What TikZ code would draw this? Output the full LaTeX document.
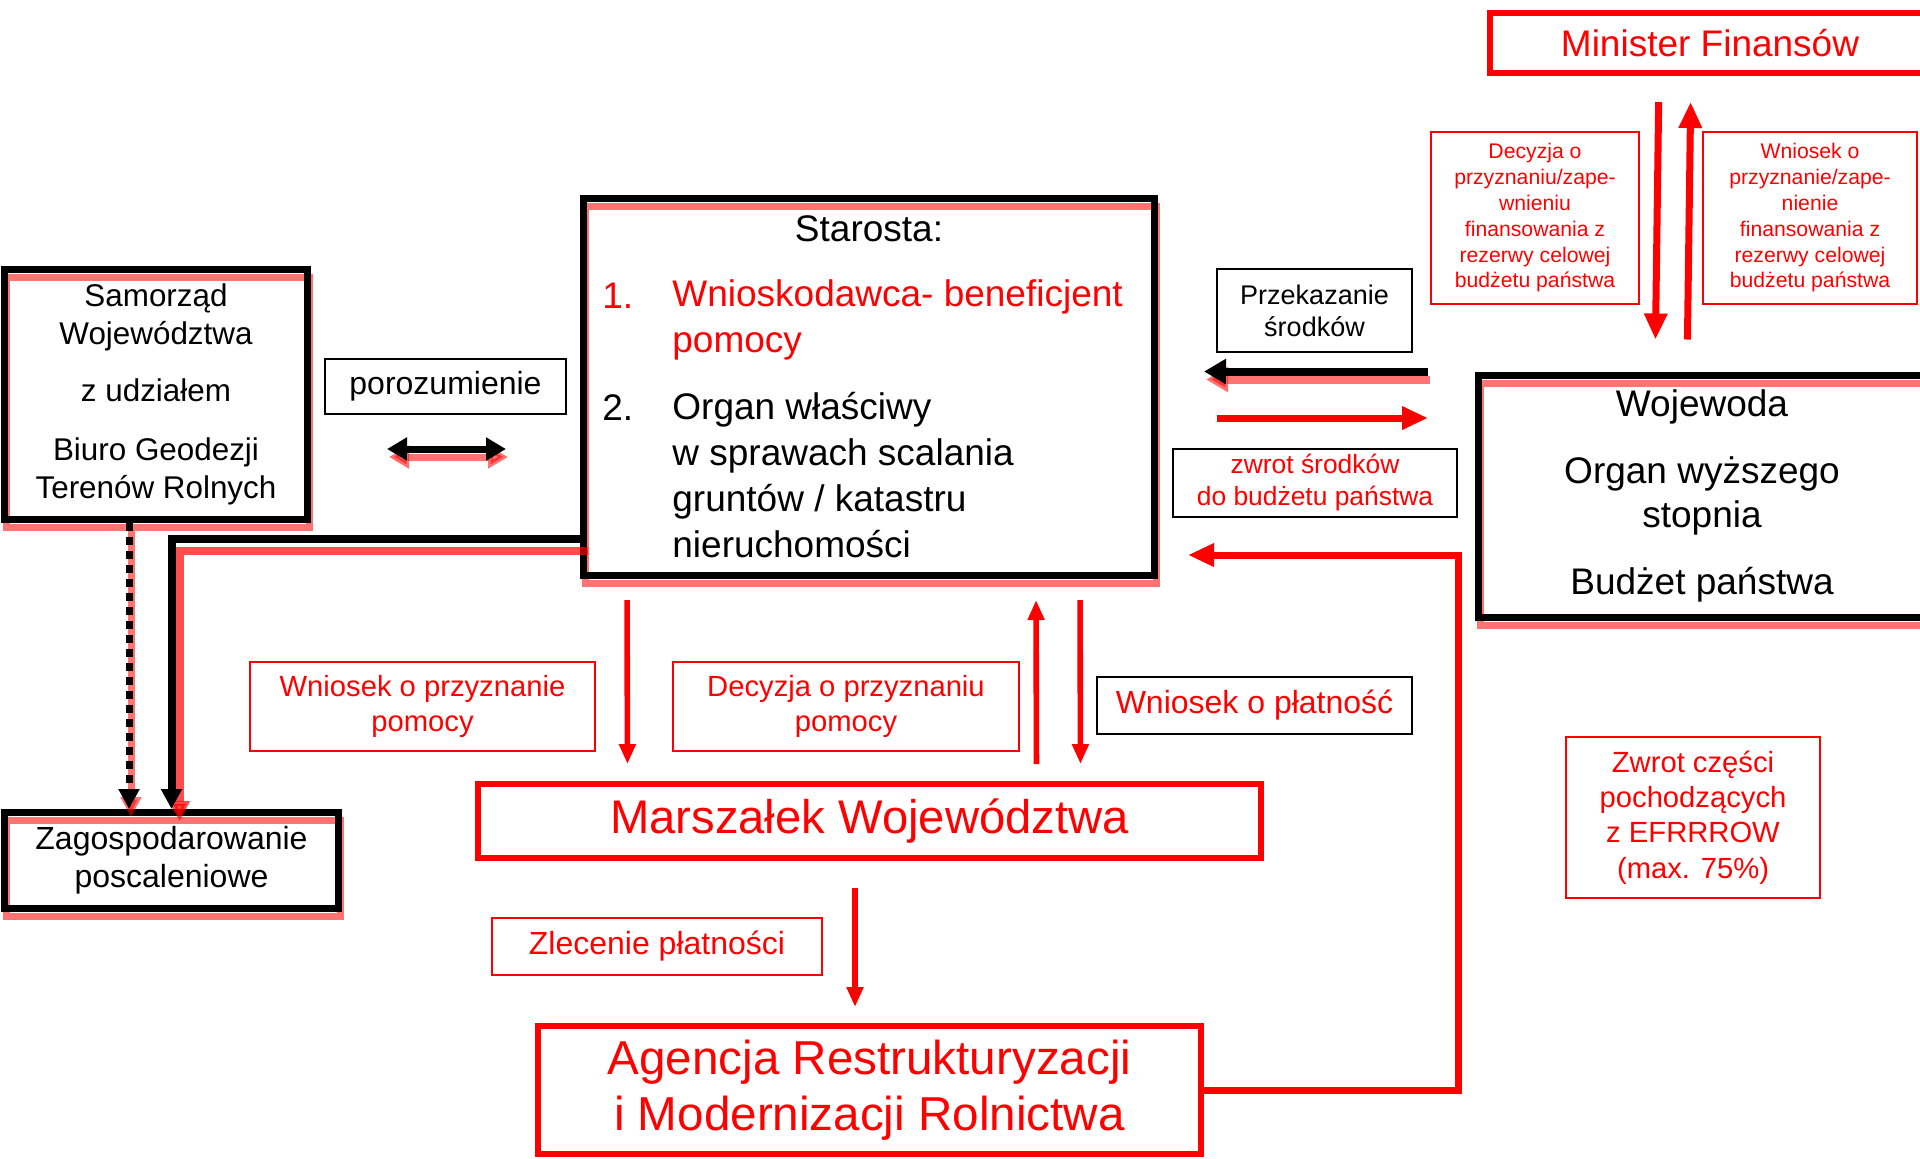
\documentclass[tikz,border=0pt]{standalone}
\usepackage{fontspec}
\setmainfont{Liberation Sans}
\usetikzlibrary{arrows.meta}

\newcommand{\fs}[2]{\fontsize{#1}{#2}\selectfont}

\begin{document}
\begin{tikzpicture}[x=0.5pt,y=-0.5pt,
    shd/.style={preaction={draw=red,opacity=.55,line width=#1,transform canvas={xshift=1pt,yshift=-4pt}}},
    shd/.default=3.5pt,
    shdl/.style={preaction={draw=red,opacity=.7,line width=4pt,transform canvas={xshift=4pt,yshift=-6pt}}},
    kbox/.style={draw,line width=3.5pt,align=center,inner sep=0pt,shd},
    rbox/.style={draw=red,line width=3pt,text=red,align=center,inner sep=0pt},
    rlab/.style={draw=red,line width=1pt,text=red,align=center,inner sep=0pt},
    klab/.style={draw,line width=1pt,align=center,inner sep=0pt},
    rarr/.style={red,line width=2.8pt,-{Triangle[length=10pt,width=8pt]}},
    rbig/.style={red,line width=3.5pt,-{Triangle[length=13pt,width=11pt]}},
    karr/.style={line width=4pt,-{Triangle[length=11pt,width=12pt]}}]

\useasboundingbox (0,0) rectangle (1920,1158);

% top right: minister and wojewoda
\node[rbox,minimum width=220pt,minimum height=30pt,font=\fs{18.5}{22}] (MF) at (1710,43) {Minister Finansów};
\node[rlab,minimum width=104pt,minimum height=86pt,font=\fs{10.6}{12.9}] (DZ) at (1535,218) {Decyzja o\\przyznaniu/zape-\\wnieniu\\finansowania z\\rezerwy celowej\\budżetu państwa};
\node[rlab,minimum width=107pt,minimum height=86pt,font=\fs{10.6}{12.9}] (WZ) at (1810,218) {Wniosek o\\przyznanie/zape-\\nienie\\finansowania z\\rezerwy celowej\\budżetu państwa};
\node[kbox,minimum width=224pt,minimum height=121pt,font=\fs{18.5}{22}] (WO) at (1702,496) {Wojewoda\\[11.5pt]Organ wyższego\\stopnia\\[11.5pt]Budżet państwa};
\node[klab,minimum width=97.5pt,minimum height=41.5pt,font=\fs{13.5}{16}] (PS) at (1314.5,310.5) {Przekazanie\\środków};
\node[klab,text=red,minimum width=142pt,minimum height=34pt,font=\fs{13.2}{16}] (ZS) at (1315,483) {zwrot środków\\do budżetu państwa};

% starosta
\node[kbox,minimum width=285.5pt,minimum height=188.5pt] (ST) at (869,387) {};
\node[font=\fs{18.5}{23},inner sep=0pt] (st0) at (869,229) {Starosta:};
\node[font=\fs{18.5}{23},inner sep=0pt,anchor=west,text=red] (n1) at (602,296) {1.};
\node[font=\fs{18.5}{23},inner sep=0pt,anchor=west,align=left,text=red] (t1) at (672,320) {Wnioskodawca- beneficjent\\pomocy};
\node[font=\fs{18.5}{23},inner sep=0pt,anchor=west] (n2) at (602,408) {2.};
\node[font=\fs{18.5}{23},inner sep=0pt,anchor=west,align=left] (t2) at (672,475) {Organ właściwy\\w sprawach scalania\\gruntów / katastru\\nieruchomości};

% left side
\node[kbox,minimum width=151.5pt,minimum height=125pt,font=\fs{15.7}{19}] (SW) at (156,394.5) {Samorząd\\Województwa\\[9.5pt]z udziałem\\[10.5pt]Biuro Geodezji\\Terenów Rolnych};
\node[klab,minimum width=120.5pt,minimum height=27.5pt,font=\fs{16}{19}] (PZ) at (445.5,386.5) {porozumienie};
\node[kbox,minimum width=167pt,minimum height=48pt,font=\fs{16}{19}] (ZP) at (171.5,860.5) {Zagospodarowanie\\poscaleniowe};

% bottom
\node[rlab,minimum width=172.5pt,minimum height=44.5pt,font=\fs{14.6}{17.5}] (WP) at (422.5,706.5) {Wniosek o przyznanie\\pomocy};
\node[rlab,minimum width=173pt,minimum height=44.5pt,font=\fs{14.6}{17.5}] (DP) at (846,706.5) {Decyzja o przyznaniu\\pomocy};
\node[klab,text=red,minimum width=157.5pt,minimum height=28.5pt,font=\fs{16}{19}] (WPL) at (1254.5,705.5) {Wniosek o płatność};
\node[rbox,minimum width=391.5pt,minimum height=37pt,font=\fs{23.6}{28}] (MA) at (869.5,821) {Marszałek Województwa};
\node[rlab,minimum width=165pt,minimum height=28.5pt,font=\fs{16}{19}] (ZL) at (657,946.5) {Zlecenie płatności};
\node[rbox,minimum width=331.5pt,minimum height=64pt,font=\fs{23.8}{28}] (AR) at (869.5,1090) {Agencja Restrukturyzacji\\i Modernizacji Rolnictwa};
\node[rlab,minimum width=127pt,minimum height=80.5pt,font=\fs{14.6}{17.7}] (ZC) at (1693,817.5) {Zwrot części\\pochodzących\\z EFRRROW\\(max. 75\%)};

\coordinate (dA) at (387,449);
\coordinate (dB) at (506,449);
\coordinate (c1) at (1217,418);
\coordinate (c2) at (1428,418);
\coordinate (ra) at (1458,555);

\draw[rbig,shorten <=13pt,shorten >=16pt] ([xshift=-25.5pt]MF.south) -- ([xshift=-23.5pt]WO.north);
\draw[rbig,shorten <=16pt,shorten >=13pt] ([xshift=-7.5pt]WO.north) -- ([xshift=-9.5pt]MF.south);
\draw[karr,shd=4pt,shorten <=23.5pt,shorten >=23pt] (WO.north west) -- (WO.north west -| ST.east);
\draw[rbig] (c1) -- (c2);
\draw[rbig,shorten >=15pt] (AR.east) -| (ra) -- (ra -| ST.east);

\draw[line width=3.5pt,shd,{Triangle[length=10pt,width=11pt]}-{Triangle[length=10pt,width=11pt]}] (dA) -- (dB);
\draw[line width=3.5pt,shd,dash pattern=on 4pt off 3pt,-{Triangle[length=10pt,width=10pt]}] ([xshift=-13.5pt]SW.south) -- ([xshift=-21.25pt]ZP.north);
\draw[karr,shdl,-{Triangle[length=10pt,width=10pt]}] ([yshift=-76pt]ST.west) -| (ZP.north);

\draw[rarr,shorten <=10.5pt,shorten >=8.5pt] ([xshift=-121pt]ST.south) -- ([xshift=-121pt]MA.north);
\draw[rarr,shorten <=8.5pt,shorten >=10.5pt] ([xshift=83.5pt]MA.north) -- ([xshift=83.5pt]ST.south);
\draw[rarr,shorten <=10.5pt,shorten >=8.5pt] ([xshift=105.5pt]ST.south) -- ([xshift=105.5pt]MA.north);
\draw[rarr,shorten <=13.5pt,shorten >=8pt] ([xshift=-7.25pt]MA.south) -- ([xshift=-7.25pt]AR.north);
\end{tikzpicture}
\end{document}
